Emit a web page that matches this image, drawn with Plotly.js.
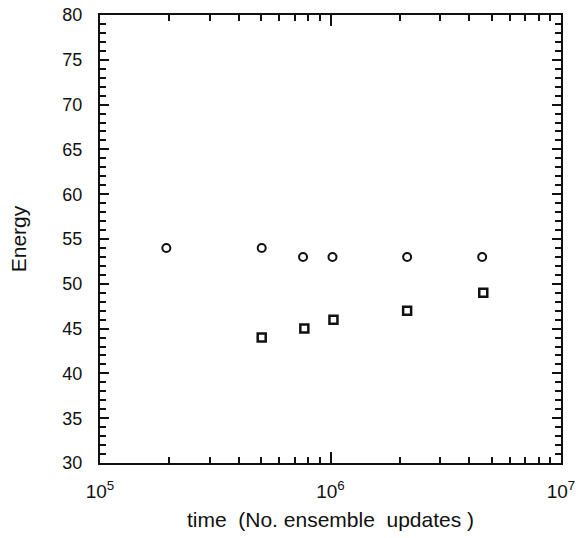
<!DOCTYPE html>
<html><head><meta charset="utf-8">
<script src="https://cdn.plot.ly/plotly-3.0.1.min.js"></script>
<style>html,body{margin:0;padding:0;background:#fff}#c{width:578px;height:538px}</style>
</head><body><div id="c"></div>
<script>
// Circles series
const circleTime = [1.94e5, 5.03e5, 7.6e5, 1.02e6, 2.15e6, 4.55e6];
const circleEnergy = [54, 54, 53, 53, 53, 53];
// Squares series
const squareTime = [5.03e5, 7.7e5, 1.03e6, 2.15e6, 4.6e6];
const squareEnergy = [44, 45, 46, 47, 49];
// Axis ticks
const xMajorVals = [1e5, 1e6, 1e7];
const xMajorText = ['10<sup>5</sup>', '10<sup>6</sup>', '10<sup>7</sup>'];
const xMinorVals = [];
[1e5, 1e6].forEach(d => { for (let k = 2; k <= 9; k++) xMinorVals.push(k * d); });
const yMajorVals = [30, 35, 40, 45, 50, 55, 60, 65, 70, 75, 80];
const yMinorVals = [];
for (let v = 30; v <= 80; v++) if (v % 5 !== 0) yMinorVals.push(v);

const font = {family: 'Liberation Sans, Arial, sans-serif', color: '#111'};
const ink = '#111';

function ghost(xa, ya) {
  return {x: circleTime, y: circleEnergy, xaxis: xa, yaxis: ya, type: 'scatter', mode: 'markers',
          marker: {opacity: 0, size: 1}, hoverinfo: 'skip', showlegend: false};
}

const traces = [
  {x: circleTime, y: circleEnergy, type: 'scatter', mode: 'markers',
   marker: {symbol: 'circle-open', size: 8, color: ink, line: {width: 2, color: ink}},
   showlegend: false},
  {x: squareTime, y: squareEnergy, type: 'scatter', mode: 'markers',
   marker: {symbol: 'square-open', size: 8, color: ink, line: {width: 2.5, color: ink}},
   showlegend: false},
  ghost('x2', 'y2'), ghost('x', 'y3'), ghost('x2', 'y4')
];

function xTicks(extra) {
  return Object.assign({
    type: 'log', range: [5, 7],
    tickmode: 'array', tickvals: xMajorVals,
    ticks: 'inside', ticklen: 11, tickwidth: 2, tickcolor: ink,
    minor: {tickmode: 'array', tickvals: xMinorVals, ticks: 'inside', ticklen: 6, tickwidth: 2, tickcolor: ink, showgrid: false},
    showline: true, linewidth: 2, linecolor: ink,
    showgrid: false, zeroline: false
  }, extra);
}
function yMajor(extra) {
  return Object.assign({
    range: [30, 80],
    tickmode: 'array', tickvals: yMajorVals,
    ticks: 'inside', ticklen: 9, tickwidth: 2, tickcolor: ink,
    showline: true, linewidth: 2, linecolor: ink,
    showgrid: false, zeroline: false
  }, extra);
}
function yMinor(extra) {
  return Object.assign({
    range: [30, 80],
    tickmode: 'array', tickvals: yMinorVals, ticktext: yMinorVals.map(() => ''),
    showticklabels: false,
    ticks: 'inside', ticklen: 6, tickwidth: 2, tickcolor: ink,
    showline: false, showgrid: false, zeroline: false
  }, extra);
}

const layout = {
  width: 578, height: 538,
  margin: {l: 100, r: 17, t: 15, b: 75},
  paper_bgcolor: '#fff', plot_bgcolor: '#fff',
  font: Object.assign({size: 17}, font),
  xaxis: xTicks({
    ticktext: xMajorText,
    tickfont: Object.assign({size: 19}, font),
    ticklabelstandoff: 10,
    title: {text: 'time  (No. ensemble  updates )', font: Object.assign({size: 21}, font), standoff: 12}
  }),
  xaxis2: xTicks({overlaying: 'x', side: 'top', showticklabels: false, anchor: 'y2'}),
  yaxis: yMajor({
    tickfont: Object.assign({size: 18}, font),
    ticklabelstandoff: 12,
    title: {text: 'Energy', font: Object.assign({size: 21}, font), standoff: 30}
  }),
  yaxis2: yMajor({overlaying: 'y', side: 'right', showticklabels: false, anchor: 'x2'}),
  yaxis3: yMinor({overlaying: 'y', side: 'left', anchor: 'x'}),
  yaxis4: yMinor({overlaying: 'y', side: 'right', anchor: 'x2'})
};

Plotly.newPlot('c', traces, layout, {staticPlot: true, displayModeBar: false});
</script></body></html>
